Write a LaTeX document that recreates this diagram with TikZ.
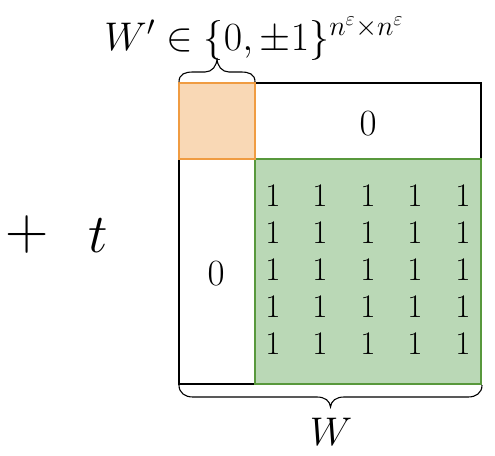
\documentclass[tikz,border=0pt]{standalone}
\usepackage{fix-cm}
\usepackage{amsmath,amssymb}
\definecolor{orfill}{RGB}{249,216,181}
\definecolor{ordraw}{RGB}{240,156,66}
\definecolor{grfill}{RGB}{186,216,182}
\definecolor{grdraw}{RGB}{88,152,60}
\tikzset{
  onecell/.style={anchor=base,inner sep=0pt,font=\fontsize{33}{38}\selectfont},
  zerocell/.style={anchor=base,inner sep=0pt,font=\fontsize{37}{42}\selectfont},
  bigsym/.style={anchor=base,inner sep=0pt},
  bracepath/.style={line width=1.1pt,black},
}
\begin{document}
\begin{tikzpicture}[x=1pt,y=-1pt]
\useasboundingbox (0,0) rectangle (495,455);
% outer matrix frame
\draw[line width=2pt,black] (179,83) rectangle (481,384);
% green block of ones
\draw[line width=2pt,draw=grdraw,fill=grfill] (255,159) rectangle (481,384);
% orange block W'
\draw[line width=2pt,draw=ordraw,fill=orfill] (179,83) rectangle (255,159);
% ones
\foreach \r [count=\i] in {206,243,280,317,354}{
  \foreach \c [count=\j] in {273,320,368,415,463}{
    \node[onecell] (one\i\j) at (\c,\r) {$1$};
  }
}
% zeros
\node[zerocell] (ztop) at (368,135) {$0$};
\node[zerocell] (zleft) at (216,285) {$0$};
% plus t
\node[bigsym,font=\fontsize{60}{70}\selectfont] (plus) at (27,249) {$+$};
\node[bigsym,font=\fontsize{55}{64}\selectfont] (tvar) at (98,252) {$t$};
% top label
\node[bigsym,font=\fontsize{40}{48}\selectfont] (toplabel) at (254,50) {$W'\in\{0,\pm1\}^{n^{\varepsilon}\times n^{\varepsilon}}$};
% bottom label
\node[bigsym,font=\fontsize{40}{48}\selectfont] (botlabel) at (331,445) {$W$};
% top brace
\draw[bracepath] (179,82) .. controls (179,74) and (185,72) .. (193,72) -- (205,72)
  .. controls (212,72) and (217,66) .. (217,58)
  .. controls (217,66) and (222,72) .. (229,72) -- (241,72)
  .. controls (249,72) and (255,74) .. (255,82);
% bottom brace
\draw[bracepath] (179,385) .. controls (179,393) and (185,397) .. (193,397) -- (317,397)
  .. controls (325,397) and (330,401) .. (330.5,407)
  .. controls (331,401) and (336,397) .. (344,397) -- (468,397)
  .. controls (476,397) and (482,393) .. (482,385);
\end{tikzpicture}
\end{document}
